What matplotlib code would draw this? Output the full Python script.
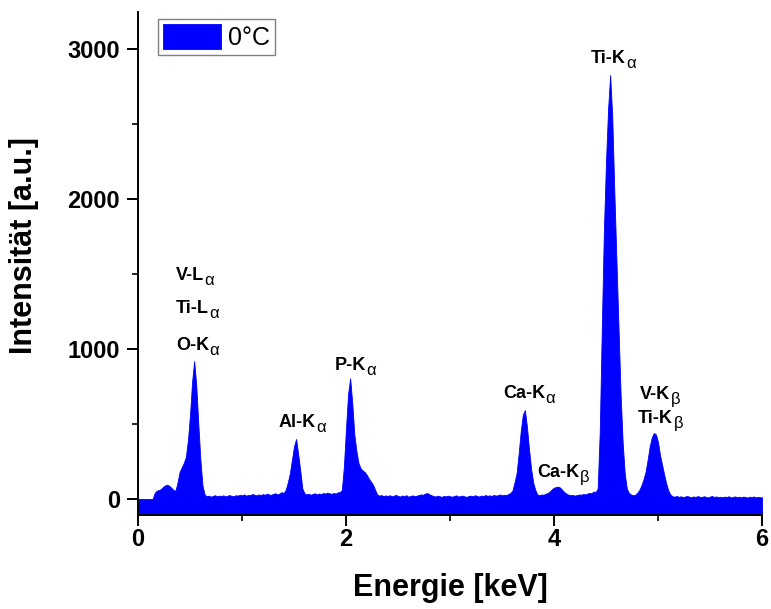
import numpy as np
import matplotlib
matplotlib.use("Agg")
import matplotlib.pyplot as plt
from matplotlib.ticker import MultipleLocator

plt.rcParams['font.family'] = ['Liberation Sans', 'DejaVu Sans']

# EDX spectrum at 0 °C: counts per 0.02 keV channel, 0.00 ... 6.00 keV
energy_step = 0.02
counts = [
    0, 0, 0, 0, 0, 0, 0, 0, 40, 55,                        # 0.00 - 0.18
    60, 65, 80, 90, 95, 88, 75, 60, 55, 110,               # 0.20 - 0.38
    180, 210, 240, 280, 390, 560, 780, 920, 760, 500,      # 0.40 - 0.58
    260, 90, 30, 18, 22, 15, 20, 25, 18, 22,               # 0.60 - 0.78
    20, 24, 17, 22, 26, 20, 18, 25, 22, 28,                # 0.80 - 0.98
    24, 30, 22, 27, 25, 33, 28, 24, 30, 26,                # 1.00 - 1.18
    32, 28, 35, 30, 27, 34, 38, 30, 36, 45,                # 1.20 - 1.38
    40, 60, 110, 170, 260, 350, 400, 300, 190, 70,         # 1.40 - 1.58
    38, 30, 35, 28, 33, 38, 30, 36, 32, 40,                # 1.60 - 1.78
    35, 42, 38, 34, 40, 36, 44, 45, 60, 220,               # 1.80 - 1.98
    470, 700, 805, 640, 430, 320, 240, 205, 190, 180,      # 2.00 - 2.18
    160, 135, 115, 95, 60, 30, 22, 26, 18, 24,             # 2.20 - 2.38
    20, 25, 18, 22, 27, 20, 16, 23, 19, 25,                # 2.40 - 2.58
    15, 20, 24, 18, 22, 26, 30, 28, 35, 40,                # 2.60 - 2.78
    32, 25, 20, 16, 22, 18, 14, 20, 17, 22,                # 2.80 - 2.98
    18, 15, 20, 24, 16, 19, 22, 17, 14, 20,                # 3.00 - 3.18
    22, 18, 25, 20, 16, 23, 19, 26, 21, 24,                # 3.20 - 3.38
    20, 27, 22, 25, 30, 24, 28, 26, 32, 40,                # 3.40 - 3.58
    55, 110, 170, 300, 450, 560, 593, 480, 330, 200,       # 3.60 - 3.78
    110, 60, 30, 25, 30, 28, 35, 40, 50, 65,               # 3.80 - 3.98
    75, 80, 82, 75, 60, 45, 35, 28, 25, 27,                # 4.00 - 4.18
    22, 26, 30, 28, 33, 30, 36, 40, 38, 50,                # 4.20 - 4.38
    45, 70, 450, 1150, 1800, 2250, 2600, 2827, 2550, 2050, # 4.40 - 4.58
    1600, 1150, 705, 380, 170, 70, 40, 30, 25, 28,         # 4.60 - 4.78
    40, 60, 90, 130, 180, 260, 350, 410, 440, 430,         # 4.80 - 4.98
    380, 290, 225, 160, 100, 55, 28, 18, 15, 20,           # 5.00 - 5.18
    14, 18, 12, 16, 20, 15, 11, 17, 13, 19,                # 5.20 - 5.38
    15, 12, 18, 14, 10, 16, 20, 13, 17, 12,                # 5.40 - 5.58
    15, 11, 16, 13, 18, 10, 14, 17, 12, 15,                # 5.60 - 5.78
    11, 16, 13, 9, 15, 12, 17, 10, 14, 12,                 # 5.80 - 5.98
    11,                                                    # 6.00
]
energy = np.arange(len(counts)) * energy_step

# Peak labels: line name, Greek subscript, energy (keV), counts at baseline, alignment
peak_labels = [
    ("V-L", "α", 0.365, 1460, 'left'),
    ("Ti-L", "α", 0.365, 1240, 'left'),
    ("O-K", "α", 0.365, 993, 'left'),
    ("Al-K", "α", 1.59, 480, 'center'),
    ("P-K", "α", 2.10, 860, 'center'),
    ("Ca-K", "α", 3.77, 673, 'center'),
    ("Ca-K", "β", 4.10, 147, 'center'),
    ("Ti-K", "α", 4.58, 2907, 'center'),
    ("V-K", "β", 5.03, 667, 'center'),
    ("Ti-K", "β", 5.035, 507, 'center'),
]

ymin, ymax = -107, 3247

fig = plt.figure(figsize=(7.71, 6.09), dpi=100)
ax = fig.add_axes([138 / 771, 94 / 609, 624 / 771, 503 / 609])

ax.fill_between(energy, ymin, counts, color='#0000FF', linewidth=0.6,
                edgecolor='#0000FF', label='0°C')

ax.set_xlim(0, 6)
ax.set_ylim(ymin, ymax)

for side in ('top', 'right'):
    ax.spines[side].set_visible(False)
for side in ('left', 'bottom'):
    ax.spines[side].set_linewidth(1.4)

ax.xaxis.set_major_locator(MultipleLocator(2))
ax.xaxis.set_minor_locator(MultipleLocator(1))
ax.yaxis.set_major_locator(MultipleLocator(1000))
ax.yaxis.set_minor_locator(MultipleLocator(500))
ax.tick_params(which='major', direction='out', length=8, width=1.4,
               labelsize=17)
ax.tick_params(axis='x', which='major', pad=1)
ax.tick_params(axis='y', which='major', pad=5)
ax.tick_params(which='minor', direction='out', length=4, width=1.2)
for lbl in ax.get_xticklabels() + ax.get_yticklabels():
    lbl.set_fontweight('bold')

ax.set_xlabel('Energie [keV]', fontsize=22, fontweight='bold', labelpad=16)
ax.set_ylabel('Intensität [a.u.]', fontsize=22, fontweight='bold')
ax.yaxis.set_label_coords((39 - 138) / 624, (515 - 245) / 503)

# Line labels: bold name followed by a lowered, full-size Greek subscript
for name, sub, e, c, ha in peak_labels:
    shift = -4.3 if ha == 'center' else 0
    main = ax.annotate(name, xy=(e, c), xytext=(shift, 0),
                       textcoords='offset points', fontsize=13,
                       fontweight='bold', ha=ha, va='baseline')
    ax.annotate(sub, xy=(1, 0), xycoords=main, xytext=(0.3, -0.8),
                textcoords='offset points', fontsize=12,
                ha='left', va='baseline')

leg = ax.legend(loc='upper left', bbox_to_anchor=(158 / 771, 1 - 19 / 609),
                bbox_transform=fig.transFigure, borderaxespad=0,
                fontsize=18, fancybox=False, framealpha=1,
                edgecolor='#808080', handlelength=2.3, handleheight=1.15,
                handletextpad=0.3, borderpad=0.2)
leg.get_frame().set_linewidth(1.0)

fig.savefig('out.png', dpi=100)
